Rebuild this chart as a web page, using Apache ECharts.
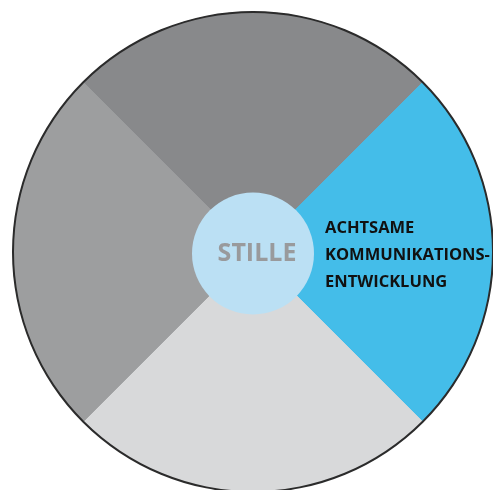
<!DOCTYPE html>
<html>
<head>
<meta charset="utf-8">
<script src="https://cdn.jsdelivr.net/npm/echarts@6/dist/echarts.min.js"></script>
<style>html,body{margin:0;padding:0;background:#fff;}#c{width:493px;height:490px;}</style>
</head>
<body>
<div id="c"></div>
<script>
const categories = ['Oben', 'ACHTSAME\nKOMMUNIKATIONS-\nENTWICKLUNG', 'Unten', 'Links'];
const values = [1, 1, 1, 1];
const sliceColors = ['#88898b', '#44bde9', '#d8d9da', '#9d9e9f'];
const centerLabel = 'STILLE';

const chart = echarts.init(document.getElementById('c'));
const cx = 253, cy = 252;
chart.setOption({
  animation: false,
  series: [
    {
      type: 'pie',
      center: [cx, cy],
      radius: [0, 240],
      startAngle: 135,
      clockwise: true,
      silent: true,
      emphasis: { disabled: true },
      labelLine: { show: false },
      labelLayout: function (p) {
        if (p.dataIndex !== 1) return {};
        return { x: cx + 72, y: cy + 3, align: 'left', verticalAlign: 'middle', hideOverlap: false };
      },
      data: categories.map((name, i) => ({
        name,
        value: values[i],
        itemStyle: { color: sliceColors[i], borderColor: sliceColors[i], borderWidth: 0.8 },
        label: i === 1 ? {
          show: true,
          position: 'inside',
          formatter: '{b}',
          color: '#111',
          fontFamily: 'Open Sans',
          fontWeight: 'bold',
          fontSize: 16.5,
          lineHeight: 27
        } : { show: false }
      }))
    },
    {
      type: 'pie',
      center: [cx, cy],
      radius: [239, 241],
      silent: true,
      emphasis: { disabled: true },
      label: { show: false },
      labelLine: { show: false },
      data: [{ value: 1, itemStyle: { color: '#2b2b2b' } }]
    },
    {
      type: 'pie',
      center: [cx, cy + 1.5],
      radius: [0, 61],
      silent: true,
      emphasis: { disabled: true },
      labelLine: { show: false },
      labelLayout: { hideOverlap: false },
      label: {
        show: true,
        position: 'center',
        formatter: '{b}',
        offset: [4, 0],
        color: '#999a9c',
        fontFamily: 'Open Sans',
        fontWeight: 'bold',
        fontSize: 25
      },
      data: [{ name: centerLabel, value: 1, itemStyle: { color: '#bbe0f4' } }]
    }
  ]
});
</script>
</body>
</html>
